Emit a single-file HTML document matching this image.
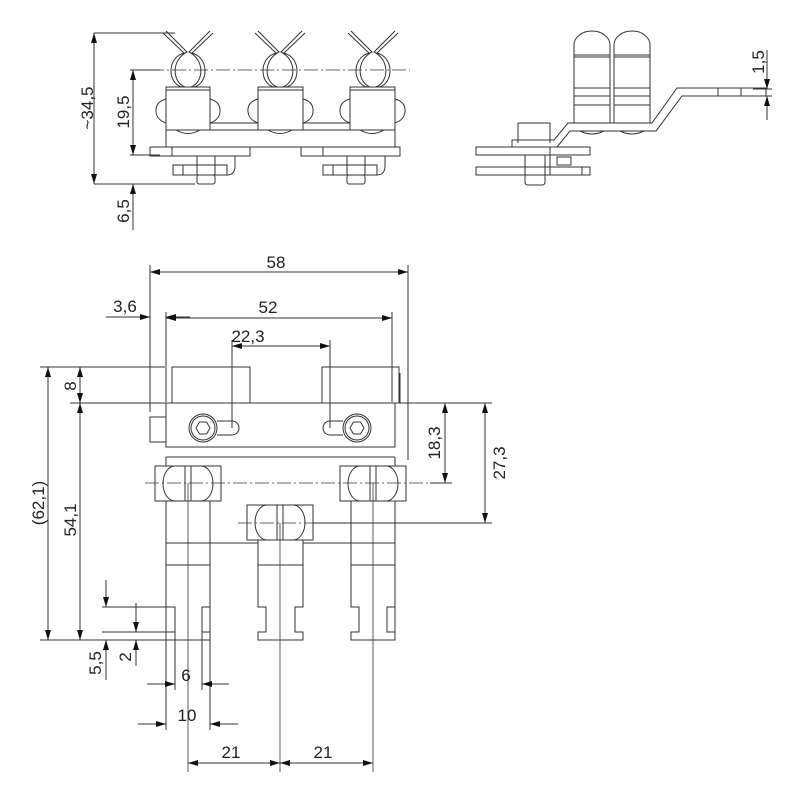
<!DOCTYPE html>
<html><head><meta charset="utf-8"><style>
html,body{margin:0;padding:0;background:#fff;}
svg{display:block;}
text{font-family:"Liberation Sans",sans-serif;font-size:17px;fill:#222;}
</style></head><body>
<svg width="800" height="800" viewBox="0 0 800 800" xmlns="http://www.w3.org/2000/svg">
<defs>
<marker id="a" viewBox="0 0 10 6" refX="10" refY="3" markerWidth="10" markerHeight="6" orient="auto-start-reverse" markerUnits="userSpaceOnUse"><path d="M0,0L10,3L0,6z" fill="#111"/></marker>
</defs>
<g fill="none" stroke="#333" stroke-width="1">
<!-- ===== TOP LEFT VIEW ===== -->
<line x1="94" y1="33" x2="175" y2="33"/>
<line x1="94" y1="184" x2="195" y2="184"/>
<line x1="94" y1="33" x2="94" y2="184" marker-start="url(#a)" marker-end="url(#a)"/>
<line x1="130" y1="70" x2="160" y2="70"/>
<line x1="130" y1="155" x2="160" y2="155"/>
<line x1="133" y1="70" x2="133" y2="155" marker-start="url(#a)" marker-end="url(#a)"/>
<line x1="133" y1="184" x2="133" y2="230" marker-start="url(#a)"/>
<line x1="150" y1="70" x2="410" y2="70" stroke-dasharray="14,3,2,3" stroke-width="0.8"/>
<!-- clip boxes -->
<rect x="166" y="87" width="44" height="43" fill="#fff"/><line x1="166" y1="90" x2="210" y2="90"/>
<rect x="258" y="87" width="45" height="43" fill="#fff"/><line x1="258" y1="90" x2="303" y2="90"/>
<rect x="350" y="87" width="45" height="43" fill="#fff"/><line x1="350" y1="90" x2="395" y2="90"/>
<line x1="210" y1="123" x2="258" y2="123"/><line x1="303" y1="123" x2="350" y2="123"/>
<rect x="166" y="130" width="229" height="17"/>
<path d="M176,130 q12,7 24,0 M268,130 q12,7 24,0 M360,130 q12,7 24,0"/>
<!-- side loops -->
<path d="M166,99 q-11,3 -10,13 q1,8 10,11 M210,99 q11,3 10,13 q-1,8 -10,11"/>
<path d="M258,99 q-11,3 -10,13 q1,8 10,11 M303,99 q11,3 10,13 q-1,8 -10,11"/>
<path d="M350,99 q-11,3 -10,13 q1,8 10,11 M395,99 q11,3 10,13 q-1,8 -10,11"/>
<!-- springs -->
<g id="spr">
<path d="M163,33 L184,53 C166,58 168,84 182,87 M166,31 L187,52 C171,60 172,82 185,87"/>
<path d="M213,33 L192,53 C210,58 208,84 194,87 M210,31 L189,52 C205,60 204,82 191,87"/>
</g>
<use href="#spr" transform="translate(92,0)"/>
<use href="#spr" transform="translate(185,0)"/>
<!-- bottom plates -->
<rect x="150" y="147" width="100" height="9"/><line x1="172" y1="147" x2="172" y2="156"/>
<rect x="301" y="147" width="99" height="9"/><line x1="323" y1="147" x2="323" y2="156"/>
<rect x="173" y="165" width="54" height="10"/><line x1="183" y1="165" x2="183" y2="175"/><line x1="197" y1="156" x2="197" y2="175"/><line x1="215" y1="156" x2="215" y2="175"/>
<rect x="197" y="175" width="18" height="9" rx="2"/>
<path d="M227,156 h8 v10 q0,9 -8,9"/>
<rect x="323" y="165" width="54" height="10"/><line x1="333" y1="165" x2="333" y2="175"/><line x1="347" y1="156" x2="347" y2="175"/><line x1="365" y1="156" x2="365" y2="175"/>
<rect x="347" y="175" width="18" height="9" rx="2"/>
<path d="M377,156 h8 v10 q0,9 -8,9"/>

<!-- ===== TOP RIGHT VIEW ===== -->
<path d="M574,123 V45 a18,14 0 0 1 36,0 V123"/>
<path d="M614,123 V45 a18,14 0 0 1 36,0 V123"/>
<path d="M574,55 h36 M574,57 h36 M614,55 h36 M614,57 h36 M574,88 h36 M614,88 h36 M574,96 h36 M614,96 h36 M574,105 h36 M614,105 h36"/>
<path d="M518,143 V123 h32 v20"/>
<path d="M512,147 V140 h42 l14,-17 h84 l25,-35 h90"/>
<path d="M512,147 h45 l13,-16 h86 l26,-35 h84 v-8"/>
<line x1="718" y1="88" x2="718" y2="96"/><line x1="741" y1="88" x2="741" y2="96"/>
<path d="M580,131 q12,6 24,0 M620,131 q12,6 24,0"/>
<rect x="476" y="147" width="114" height="8"/>
<rect x="476" y="167" width="114" height="8"/>
<line x1="550" y1="147" x2="550" y2="175"/><line x1="582" y1="167" x2="582" y2="175"/>
<rect x="557" y="157" width="14" height="8"/>
<path d="M525,155 v27 q0,3 3,3 h14 q3,0 3,-3 v-27"/>
<line x1="753" y1="89" x2="772" y2="89"/><line x1="753" y1="96" x2="772" y2="96"/>
<line x1="767" y1="50" x2="767" y2="89" marker-end="url(#a)"/>
<line x1="767" y1="120" x2="767" y2="96" marker-end="url(#a)"/>

<!-- ===== MAIN VIEW ===== -->
<line x1="150" y1="265" x2="150" y2="412"/>
<line x1="408" y1="265" x2="408" y2="460"/>
<line x1="150" y1="272" x2="408" y2="272" marker-start="url(#a)" marker-end="url(#a)"/>
<line x1="166" y1="312" x2="166" y2="402"/>
<line x1="392" y1="312" x2="392" y2="402"/>
<line x1="166" y1="318" x2="392" y2="318" marker-start="url(#a)" marker-end="url(#a)"/>
<line x1="106" y1="317" x2="150" y2="317" marker-end="url(#a)"/>
<line x1="190" y1="317" x2="166" y2="317" marker-end="url(#a)"/>
<line x1="232" y1="340" x2="232" y2="428"/>
<line x1="330" y1="340" x2="330" y2="428"/>
<line x1="232" y1="346" x2="330" y2="346" marker-start="url(#a)" marker-end="url(#a)"/>
<path d="M172,403 V367 h78 v36"/>
<path d="M322,403 V367 h77 v36"/>
<path d="M398,403 h2 v-30"/>
<rect x="166" y="403" width="229" height="44"/>
<line x1="166" y1="457" x2="395" y2="457"/>
<rect x="150" y="417" width="16" height="25"/>
<circle cx="203" cy="428" r="14"/><circle cx="203" cy="428" r="12"/>
<polygon points="196,428 199.5,422 206.5,422 210,428 206.5,434 199.5,434"/>
<path d="M217,421 h15 a7,7 0 0 1 0,14 h-15"/>
<circle cx="357" cy="428" r="14"/><circle cx="357" cy="428" r="12"/>
<polygon points="350,428 353.5,422 360.5,422 364,428 360.5,434 353.5,434"/>
<path d="M343,421 h-13 a7,7 0 0 0 0,14 h13"/>
<g id="cl">
<rect x="155" y="466" width="66" height="35"/>
<path d="M175,466 h26 a12,17.5 0 0 1 0,35 h-26 a12,17.5 0 0 1 0,-35 z"/>
<line x1="185" y1="466" x2="185" y2="501"/><line x1="191" y1="466" x2="191" y2="501"/>
</g>
<use href="#cl" transform="translate(185,0)"/>
<use href="#cl" transform="translate(92,39)"/>
<line x1="145" y1="483" x2="430" y2="483" stroke-dasharray="14,3,2,3" stroke-width="0.8"/>
<line x1="238" y1="523" x2="492" y2="523" stroke-dasharray="14,3,2,3" stroke-width="0.8"/>
<line x1="166" y1="457" x2="166" y2="466"/><line x1="395" y1="457" x2="395" y2="466"/>
<line x1="166" y1="501" x2="166" y2="640"/><line x1="395" y1="501" x2="395" y2="640"/>
<line x1="166" y1="543" x2="258" y2="543"/><line x1="303" y1="543" x2="395" y2="543"/>
<line x1="166" y1="565" x2="210" y2="565"/><line x1="258" y1="565" x2="303" y2="565"/><line x1="351" y1="565" x2="395" y2="565"/>
<line x1="210" y1="501" x2="210" y2="640"/>
<rect x="166" y="607" width="9" height="25"/><rect x="202" y="607" width="8" height="25"/>
<line x1="258" y1="540" x2="258" y2="543"/><line x1="303" y1="540" x2="303" y2="543"/>
<path d="M258,543 V607 h8 v25 h-8 v8 h45 v-8 h-8 v-25 h8 V543"/>
<path d="M351,501 V607 h8 v25 h-8 v8 h44 v-8 h-8 v-25 h8"/>
<line x1="166" y1="640" x2="210" y2="640"/>
<line x1="188" y1="483" x2="188" y2="772" stroke-width="0.8"/>
<line x1="280" y1="523" x2="280" y2="772" stroke-width="0.8"/>
<line x1="373" y1="483" x2="373" y2="772" stroke-width="0.8"/>
<line x1="188" y1="763" x2="280" y2="763" marker-start="url(#a)" marker-end="url(#a)"/>
<line x1="280" y1="763" x2="373" y2="763" marker-start="url(#a)" marker-end="url(#a)"/>
<line x1="166" y1="640" x2="166" y2="730"/><line x1="210" y1="640" x2="210" y2="730"/>
<line x1="175" y1="632" x2="175" y2="690"/><line x1="202" y1="632" x2="202" y2="690"/>
<line x1="138" y1="724" x2="166" y2="724" marker-end="url(#a)"/>
<line x1="238" y1="724" x2="210" y2="724" marker-end="url(#a)"/>
<line x1="147" y1="684" x2="175" y2="684" marker-end="url(#a)"/>
<line x1="229" y1="684" x2="202" y2="684" marker-end="url(#a)"/>
<line x1="102" y1="607" x2="166" y2="607"/><line x1="102" y1="632" x2="166" y2="632"/>
<line x1="40" y1="640" x2="166" y2="640"/>
<line x1="106" y1="580" x2="106" y2="607" marker-end="url(#a)"/>
<line x1="106" y1="680" x2="106" y2="640" marker-end="url(#a)"/>
<line x1="136" y1="603" x2="136" y2="632" marker-end="url(#a)"/>
<line x1="136" y1="666" x2="136" y2="640" marker-end="url(#a)"/>
<line x1="40" y1="367" x2="165" y2="367"/>
<line x1="70" y1="403" x2="166" y2="403"/>
<line x1="48" y1="367" x2="48" y2="640" marker-start="url(#a)" marker-end="url(#a)"/>
<line x1="80" y1="403" x2="80" y2="640" marker-start="url(#a)" marker-end="url(#a)"/>
<line x1="80" y1="367" x2="80" y2="403" marker-start="url(#a)" marker-end="url(#a)"/>
<line x1="395" y1="403" x2="492" y2="403"/>
<line x1="430" y1="483" x2="452" y2="483"/>
<line x1="313" y1="523" x2="492" y2="523"/>
<line x1="445" y1="403" x2="445" y2="483" marker-start="url(#a)" marker-end="url(#a)"/>
<line x1="485" y1="403" x2="485" y2="523" marker-start="url(#a)" marker-end="url(#a)"/>
</g>
<text transform="translate(93,108) rotate(-90)" text-anchor="middle">~34,5</text>
<text transform="translate(129,112) rotate(-90)" text-anchor="middle">19,5</text>
<text transform="translate(129,211) rotate(-90)" text-anchor="middle">6,5</text>
<text transform="translate(764,62) rotate(-90)" text-anchor="middle">1,5</text>
<text x="276" y="268" text-anchor="middle">58</text>
<text x="125" y="312" text-anchor="middle">3,6</text>
<text x="268" y="313" text-anchor="middle">52</text>
<text x="248" y="342" text-anchor="middle">22,3</text>
<text transform="translate(76,386) rotate(-90)" text-anchor="middle">8</text>
<text transform="translate(44,503) rotate(-90)" text-anchor="middle">(62,1)</text>
<text transform="translate(76,520) rotate(-90)" text-anchor="middle">54,1</text>
<text transform="translate(440,443) rotate(-90)" text-anchor="middle">18,3</text>
<text transform="translate(505,463) rotate(-90)" text-anchor="middle">27,3</text>
<text transform="translate(101,663) rotate(-90)" text-anchor="middle">5,5</text>
<text transform="translate(131,657) rotate(-90)" text-anchor="middle">2</text>
<text x="186" y="681" text-anchor="middle">6</text>
<text x="187" y="721" text-anchor="middle">10</text>
<text x="231" y="758" text-anchor="middle">21</text>
<text x="323" y="758" text-anchor="middle">21</text>
</svg>
</body></html>
